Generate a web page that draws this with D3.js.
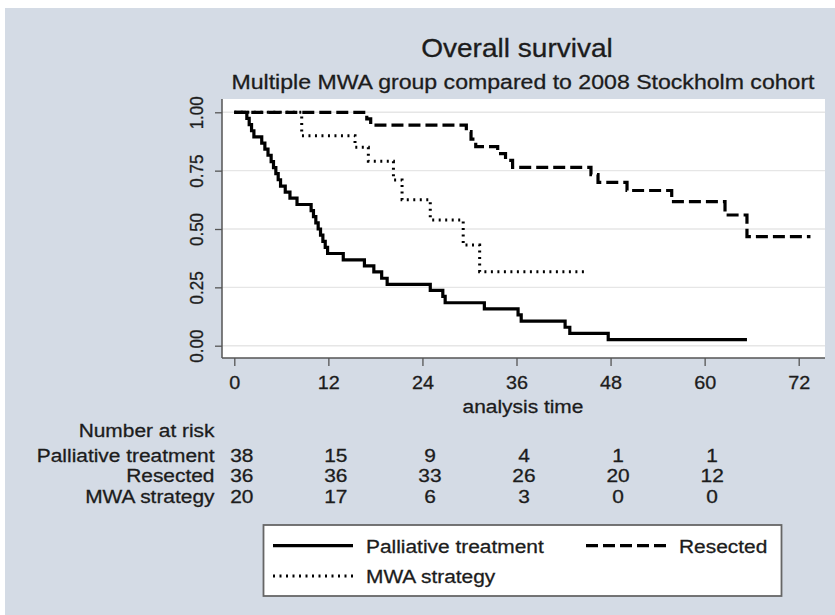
<!DOCTYPE html>
<html><head><meta charset="utf-8">
<script src="https://cdn.jsdelivr.net/npm/d3@7"></script>
<style>
html,body{margin:0;padding:0;background:#fff;}
svg{display:block;}
text{font-family:"Liberation Sans",Arial,Helvetica,sans-serif;fill:#1c1c1c;stroke:#1c1c1c;stroke-width:0.3px;}
</style>
</head><body>
<svg id="chart" width="835" height="615"></svg>
<script>
// ---- data ----
const palliativeTime = [0, 1.6, 1.9, 2.2, 2.5, 3.5, 3.9, 4.3, 4.7, 5.0, 5.3, 5.6, 5.9, 6.5, 7.1, 8.0, 9.8, 10.1, 10.4, 10.7, 11.0, 11.3, 11.6, 11.9, 13.9, 16.6, 17.8, 18.8, 19.5, 25.0, 26.6, 26.9, 31.9, 36.2, 36.6, 42.2, 42.8, 47.7, 65.4];
const palliativeSurv = [1, .974, .947, .921, .895, .868, .842, .816, .789, .763, .737, .711, .684, .658, .632, .605, .579, .553, .526, .5, .474, .447, .421, .395, .368, .342, .316, .289, .263, .237, .211, .184, .158, .132, .105, .079, .053, .026, .026];

const resectedTime = [0, 16.9, 17.4, 29.6, 30.2, 30.8, 33.6, 34.6, 35.5, 45.5, 46.4, 50.1, 55.8, 62.6, 65.4, 73.5];
const resectedSurv = [1, .972, .945, .917, .885, .853, .823, .794, .764, .733, .70, .665, .617, .56, .467, .467];

const mwaTime = [0, 8.6, 15.4, 17.1, 20.3, 21.4, 25.0, 29.2, 31.3, 45.0];
const mwaSurv = [1, .90, .85, .79, .71, .625, .539, .431, .317, .317];

const xTicks = [0, 12, 24, 36, 48, 60, 72];
const yTicks = [0, 0.25, 0.5, 0.75, 1];

const riskGroups = ["Palliative treatment", "Resected", "MWA strategy"];
const riskPalliative = [38, 15, 9, 4, 1, 1];
const riskResected = [36, 36, 33, 26, 20, 12];
const riskMWA = [20, 17, 6, 3, 0, 0];
const riskTimes = [0, 12, 24, 36, 48, 60];

const titleText = "Overall survival";
const subtitleText = "Multiple MWA group compared to 2008 Stockholm cohort";
const xTitle = "analysis time";
const riskTitle = "Number at risk";

// ---- drawing ----
const svg = d3.select("#chart");
const W = 835, H = 615;
const plot = {left: 222, right: 825, top: 99, bottom: 358};

svg.append("rect").attr("x", 0).attr("y", 0).attr("width", W).attr("height", H).attr("fill", "#ffffff");
svg.append("rect").attr("x", 5).attr("y", 8).attr("width", W - 5).attr("height", H - 8).attr("fill", "#d4dbe5");
svg.append("rect").attr("x", plot.left).attr("y", plot.top)
  .attr("width", plot.right - plot.left).attr("height", plot.bottom - plot.top).attr("fill", "#ffffff");

const x = d3.scaleLinear().domain([0, 72]).range([234.3, 798.7]);
const y = d3.scaleLinear().domain([0, 1]).range([345.7, 112.3]);

// stretched text helper
function label(g, px, py, s, size, anchor) {
  return g.append("text")
    .attr("transform", `translate(${px},${py}) scale(1.1,1)`)
    .attr("text-anchor", anchor || "middle")
    .style("font-size", size + "px")
    .text(s);
}

// gridlines
svg.append("g").selectAll("line").data(yTicks).join("line")
  .attr("x1", plot.left).attr("x2", plot.right)
  .attr("y1", d => y(d)).attr("y2", d => y(d))
  .attr("stroke", "#e6e6e6").attr("stroke-width", 1.4);

// axes via d3
const yAxis = d3.axisLeft(y).tickValues(yTicks).tickFormat(d3.format(".2f")).tickSize(7).tickPadding(0);
const yg = svg.append("g").attr("transform", `translate(${plot.left},0)`).call(yAxis);
yg.select(".domain").remove();
yg.selectAll(".tick line").attr("stroke", "#555").attr("stroke-width", 1.3);
yg.selectAll(".tick text")
  .attr("x", null).attr("dy", null)
  .attr("transform", "translate(-19,0) scale(1.1,1) rotate(-90)")
  .attr("text-anchor", "middle")
  .style("font-size", "17px").style("font-family", '"Liberation Sans",Arial,sans-serif').attr("fill", "#1c1c1c");

const xAxis = d3.axisBottom(x).tickValues(xTicks).tickFormat(d3.format("d")).tickSize(8).tickPadding(0);
const xg = svg.append("g").attr("transform", `translate(0,${plot.bottom})`).call(xAxis);
xg.select(".domain").remove();
xg.selectAll(".tick line").attr("stroke", "#555").attr("stroke-width", 1.3);
xg.selectAll(".tick text")
  .attr("y", null).attr("dy", null)
  .attr("transform", "translate(0,31) scale(1.1,1)")
  .style("font-size", "18px").style("font-family", '"Liberation Sans",Arial,sans-serif').attr("fill", "#1c1c1c");

// axis lines
svg.append("line").attr("x1", plot.left).attr("x2", plot.left).attr("y1", plot.top).attr("y2", plot.bottom)
  .attr("stroke", "#555").attr("stroke-width", 1.5);
svg.append("line").attr("x1", plot.left).attr("x2", plot.right).attr("y1", plot.bottom).attr("y2", plot.bottom)
  .attr("stroke", "#555").attr("stroke-width", 1.5);

// curves
const line = d3.line().x(d => x(d[0])).y(d => y(d[1])).curve(d3.curveStepAfter);
const series = [
  {t: palliativeTime, s: palliativeSurv, dash: null, w: 3.2},
  {t: resectedTime, s: resectedSurv, dash: "12,5", w: 3.2},
  {t: mwaTime, s: mwaSurv, dash: "2,4.5", w: 3}
];
series.forEach(se => {
  const pts = se.t.map((t, i) => [t, se.s[i]]);
  svg.append("path").datum(pts).attr("d", line)
    .attr("fill", "none").attr("stroke", "#000").attr("stroke-width", se.w)
    .attr("stroke-dasharray", se.dash).attr("stroke-linejoin", "miter").attr("stroke-linecap", "butt");
});

// titles
label(svg, 517, 57, titleText, 25.5);
label(svg, 523, 89, subtitleText, 21);
label(svg, 523, 412.5, xTitle, 19);

// number at risk
const tg = svg.append("g");
label(tg, 214.5, 437, riskTitle, 19, "end");
const riskRows = [riskPalliative, riskResected, riskMWA];
const rowY = [461.5, 482, 502.5];
riskRows.forEach((row, r) => {
  label(tg, 214.5, rowY[r], riskGroups[r], 19, "end");
  row.forEach((v, i) => label(tg, x(riskTimes[i]) + 7.5, rowY[r], String(v), 19));
});

// legend
const lg = svg.append("g");
lg.append("rect").attr("x", 263.5).attr("y", 525).attr("width", 518).attr("height", 71)
  .attr("fill", "#fff").attr("stroke", "#666").attr("stroke-width", 1.8);
const legItems = [
  {name: riskGroups[0], x: 273, y: 545.7, dash: null, w: 3.2},
  {name: riskGroups[1], x: 586, y: 545.7, dash: "12,5", w: 3.2},
  {name: riskGroups[2], x: 273, y: 576, dash: "2,4.5", w: 3}
];
legItems.forEach(it => {
  lg.append("line").attr("x1", it.x).attr("x2", it.x + 80).attr("y1", it.y).attr("y2", it.y)
    .attr("stroke", "#000").attr("stroke-width", it.w).attr("stroke-dasharray", it.dash);
  label(lg, it.x + 93, it.y + 7, it.name, 19, "start");
});
</script>
</body></html>
